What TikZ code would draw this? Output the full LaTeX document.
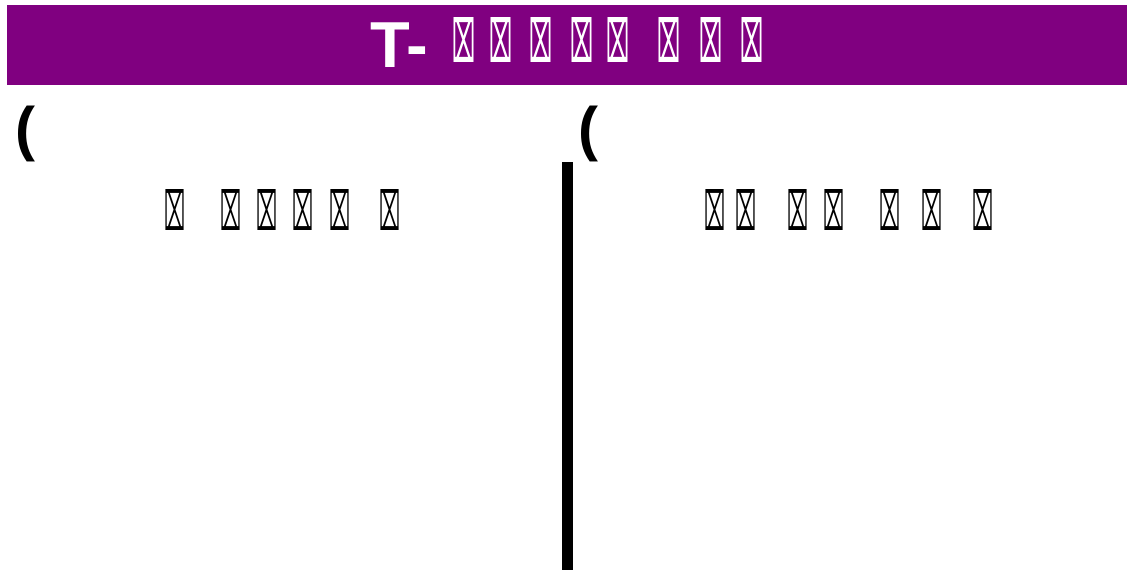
\documentclass[tikz,border=0pt]{standalone}
\usepackage{fontspec}
\setmainfont{Liberation Sans}
\newfontfamily\symbfont{DejaVu Sans}
\usepackage{graphicx}
\usepackage{xcolor}
\usetikzlibrary{positioning}
\definecolor{chartpurple}{RGB}{128,0,128}
\newcommand{\tofu}[2]{\resizebox{#1pt}{#2pt}{\raisebox{\depth}{\symbfont ⌧}}}
\newcommand{\ttofu}{\raisebox{5pt}{\tofu{23}{45}}}
\newcommand{\htofu}{\tofu{21}{41}}
\newcommand{\tgap}[1]{\hspace{#1pt}}
\tikzstyle{banner} = [rectangle, fill=chartpurple, minimum width=1120pt, minimum height=80pt, inner sep=0pt]
\tikzstyle{titletext} = [text=white, font=\bfseries\fontsize{65}{65}\selectfont, inner sep=0pt]
\tikzstyle{paren} = [font=\bfseries\fontsize{60}{60}\selectfont, inner sep=0pt]
\tikzstyle{heading} = [inner sep=0pt]
\tikzstyle{divider} = [line width=11pt]

\begin{document}
\begin{tikzpicture}[x=1pt, y=-1pt]
        \useasboundingbox (0,0) rectangle (1128,570);
        \node (banner) [banner, anchor=north west] at (7,5) {};
        \node (title) [titletext, yshift=3pt] at (banner.center) {T-\tgap{24}\ttofu\tgap{14}\ttofu\tgap{17}\ttofu\tgap{18}\ttofu\tgap{13}\ttofu\tgap{28}\ttofu\tgap{19}\ttofu\tgap{18}\ttofu};

        \node (leftparen) [paren, anchor=north west] at (15,106) {(};
        \node (rightparen) [paren, anchor=north west] at (578,106) {(};

        \node (lefthead) [heading] at (282.5,209.5) {\htofu\tgap{35}\htofu\tgap{15}\htofu\tgap{15}\htofu\tgap{16}\htofu\tgap{29}\htofu};
        \node (righthead) [heading] at (848.5,209.5) {\htofu\tgap{10}\htofu\tgap{31}\htofu\tgap{15}\htofu\tgap{35}\htofu\tgap{21}\htofu\tgap{30}\htofu};

        \coordinate (divtop) at (567.5,162);
        \coordinate (divbot) at (567.5,570);
        \draw [divider] (divtop) -- (divbot);

    \end{tikzpicture}
\end{document}
